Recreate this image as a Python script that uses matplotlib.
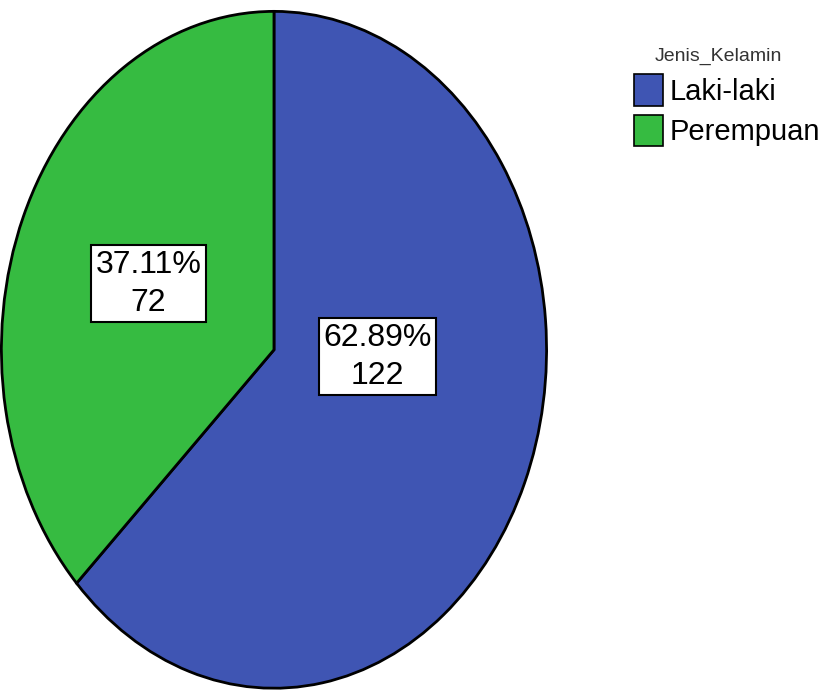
import matplotlib.pyplot as plt
from matplotlib.patches import Patch

# Jumlah responden per jenis kelamin
kategori = ['Laki-laki', 'Perempuan']
jumlah = [122, 72]
warna = ['#3f55b3', '#36bb41']
posisi_label = [(0.38, -0.02), (-0.46, 0.195)]

FONT = ['Liberation Sans Narrow', 'Liberation Sans', 'DejaVu Sans']

fig = plt.figure(figsize=(8.34, 6.92), dpi=100)
ax = fig.add_axes([0.0, 0.003, 0.657, 0.983])

wedges, _ = ax.pie(jumlah, colors=warna, startangle=90, counterclock=False,
                   wedgeprops=dict(edgecolor='black', linewidth=2))
ax.set_aspect('auto')
ax.set_xlim(-1.005, 1.005)
ax.set_ylim(-1.005, 1.005)
ax.axis('off')

total = sum(jumlah)
for n, (x, y) in zip(jumlah, posisi_label):
    ax.text(x, y, f'{n / total * 100:.2f}%\n{n}', ha='center', va='center',
            fontsize=23, family=FONT, linespacing=1.35,
            bbox=dict(boxstyle='square,pad=0.14', facecolor='white',
                      edgecolor='black', linewidth=1.5))

handles = [Patch(facecolor=c, edgecolor='black', linewidth=1.2) for c in warna]
leg = fig.legend(handles, kategori, title='Jenis_Kelamin', loc='upper left',
                 bbox_to_anchor=(0.736, 0.96), frameon=False,
                 prop=dict(family=FONT, size=21), title_fontsize=14,
                 handlelength=1.0, handleheight=1.3, handletextpad=0.2,
                 labelspacing=0.3, alignment='left', borderpad=0.2)
leg.get_title().set_family(FONT)
leg.get_title().set_color('#333333')
leg.get_title().set_x(20)

fig.savefig('out.png', dpi=100)
